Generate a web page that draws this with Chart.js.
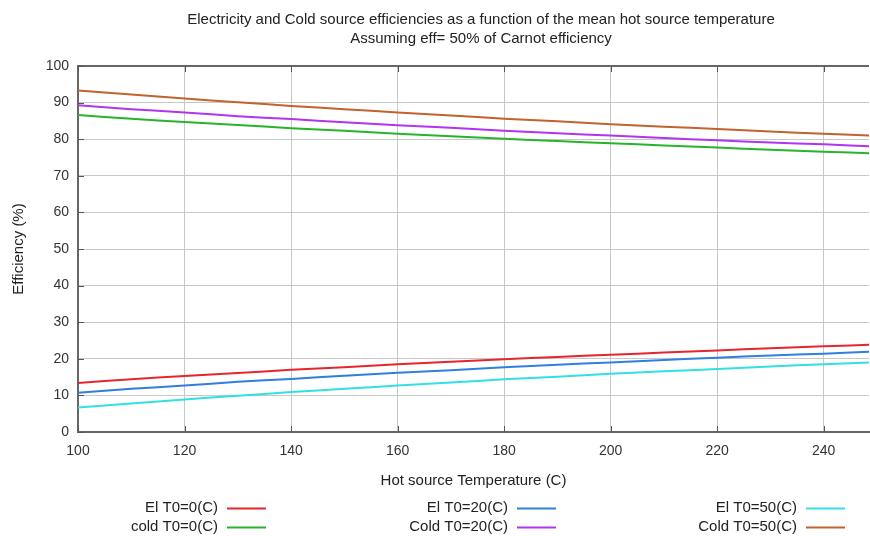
<!DOCTYPE html>
<html>
<head>
<meta charset="utf-8">
<script src="https://cdn.jsdelivr.net/npm/chart.js@4/dist/chart.umd.min.js"></script>
<style>
  html, body { margin: 0; padding: 0; background: #fff; }
  #wrap { width: 870px; height: 536px; }
</style>
</head>
<body>
<div id="wrap"><canvas id="effChart" width="870" height="536"></canvas></div>
<script>
// ---- data ----
const TEMPS = [100, 110, 120, 130, 140, 150, 160, 170, 180, 190, 200, 210, 220, 230, 240, 250];

const EL_T0_0 = [13.4, 14.4, 15.3, 16.1, 17.0, 17.7, 18.5, 19.2, 19.9, 20.5, 21.1, 21.7, 22.3, 22.9, 23.4, 23.9];
const EL_T0_20 = [10.7, 11.8, 12.7, 13.7, 14.5, 15.4, 16.2, 16.9, 17.7, 18.4, 19.0, 19.7, 20.3, 20.9, 21.4, 22.0];
const EL_T0_50 = [6.7, 7.8, 8.9, 9.9, 10.9, 11.8, 12.7, 13.5, 14.4, 15.1, 15.9, 16.6, 17.2, 17.9, 18.5, 19.1];
const COLD_T0_0 = [86.6, 85.6, 84.7, 83.9, 83.0, 82.3, 81.5, 80.8, 80.1, 79.5, 78.9, 78.3, 77.7, 77.1, 76.6, 76.1];
const COLD_T0_20 = [89.3, 88.2, 87.3, 86.3, 85.5, 84.6, 83.8, 83.1, 82.3, 81.6, 81.0, 80.3, 79.7, 79.1, 78.6, 78.0];
const COLD_T0_50 = [93.3, 92.2, 91.1, 90.1, 89.1, 88.2, 87.3, 86.5, 85.6, 84.9, 84.1, 83.4, 82.8, 82.1, 81.5, 80.9];

const SERIES_LABELS = ["El T0=0(C)", "cold T0=0(C)", "El T0=20(C)", "Cold T0=20(C)", "El T0=50(C)", "Cold T0=50(C)"];

const TITLE_LINES = [
  "Electricity and Cold source efficiencies as a function of the mean hot source temperature",
  "Assuming eff= 50% of Carnot efficiency"
];

const RED = "#e5262c";
const GREEN = "#28b42a";
const BLUE = "#2f7fe0";
const PURPLE = "#b234f0";
const CYAN = "#34dfe3";
const BROWN = "#c2622e";

const FONT = "'Liberation Sans', Arial, sans-serif";

function pts(ys) {
  return TEMPS.map((t, i) => ({ x: t, y: ys[i] }));
}

function ds(label, ys, color) {
  return {
    label,
    data: pts(ys),
    borderColor: color,
    backgroundColor: color,
    borderWidth: 2,
    pointRadius: 0,
    tension: 0.3,
    fill: false
  };
}

// titles, inward ticks, frame, legend
const decor = {
  id: "decor",
  afterDraw(chart) {
    const c = chart.ctx;
    const a = chart.chartArea;
    const xs = chart.scales.x;
    const ys = chart.scales.y;

    c.save();
    c.fillStyle = "#222";
    c.font = "15px " + FONT;
    c.textAlign = "center";
    c.textBaseline = "middle";
    c.fillText(TITLE_LINES[0], 481, 20);
    c.fillText(TITLE_LINES[1], 481, 39);

    // frame top line
    c.strokeStyle = "#666";
    c.lineWidth = 2;
    c.beginPath();
    c.moveTo(a.left, a.top);
    c.lineTo(a.right, a.top);
    c.stroke();

    // inward ticks
    c.lineWidth = 1;
    c.strokeStyle = "#555";
    xs.ticks.forEach(t => {
      const px = Math.round(xs.getPixelForValue(t.value)) + 0.5;
      c.beginPath();
      c.moveTo(px, a.bottom); c.lineTo(px, a.bottom - 6);
      c.moveTo(px, a.top); c.lineTo(px, a.top + 6);
      c.stroke();
    });
    ys.ticks.forEach(t => {
      const py = Math.round(ys.getPixelForValue(t.value)) + 0.5;
      c.beginPath();
      c.moveTo(a.left, py); c.lineTo(a.left + 6, py);
      c.stroke();
    });

    // legend: 3 columns x 2 rows, text right aligned then a line sample
    const colEnds = [218, 508, 797];
    const rowY = [508, 527];
    c.font = "15px " + FONT;
    c.textAlign = "right";
    chart.data.datasets.forEach((d, i) => {
      const col = Math.floor(i / 2);
      const row = i % 2;
      const x = colEnds[col];
      const y = rowY[row];
      c.fillStyle = "#222";
      c.fillText(d.label, x, y);
      c.strokeStyle = d.borderColor;
      c.lineWidth = 2;
      c.beginPath();
      c.moveTo(x + 9, y + 0.5);
      c.lineTo(x + 48, y + 0.5);
      c.stroke();
    });
    c.restore();
  }
};

new Chart(document.getElementById("effChart"), {
  type: "line",
  data: {
    datasets: [
      ds(SERIES_LABELS[0], EL_T0_0, RED),
      ds(SERIES_LABELS[1], COLD_T0_0, GREEN),
      ds(SERIES_LABELS[2], EL_T0_20, BLUE),
      ds(SERIES_LABELS[3], COLD_T0_20, PURPLE),
      ds(SERIES_LABELS[4], EL_T0_50, CYAN),
      ds(SERIES_LABELS[5], COLD_T0_50, BROWN)
    ]
  },
  options: {
    responsive: false,
    animation: false,
    layout: { padding: { top: 66, right: 1, bottom: 46, left: 0 } },
    plugins: {
      legend: { display: false },
      title: { display: false },
      tooltip: { enabled: false }
    },
    scales: {
      x: {
        type: "linear",
        min: 100,
        max: 248.5,
        afterFit: s => { s.height = 58; },
        ticks: {
          stepSize: 20,
          includeBounds: false,
          color: "#333",
          font: { family: FONT, size: 14 },
          padding: 11
        },
        grid: { color: "#c8c8c8", drawTicks: false },
        border: { color: "#666", width: 2 },
        title: {
          display: true,
          text: "Hot source Temperature (C)",
          color: "#222",
          font: { family: FONT, size: 15 },
          padding: { top: 6, bottom: 0 }
        }
      },
      y: {
        min: 0,
        max: 100,
        afterFit: s => { s.width = 78; },
        ticks: {
          stepSize: 10,
          color: "#333",
          font: { family: FONT, size: 14 },
          padding: 9
        },
        grid: { color: "#c8c8c8", drawTicks: false },
        border: { color: "#666", width: 2 },
        title: {
          display: true,
          text: "Efficiency (%)",
          color: "#222",
          font: { family: FONT, size: 15 },
          padding: { top: 10, bottom: 4 }
        }
      }
    }
  },
  plugins: [decor]
});
</script>
</body>
</html>
